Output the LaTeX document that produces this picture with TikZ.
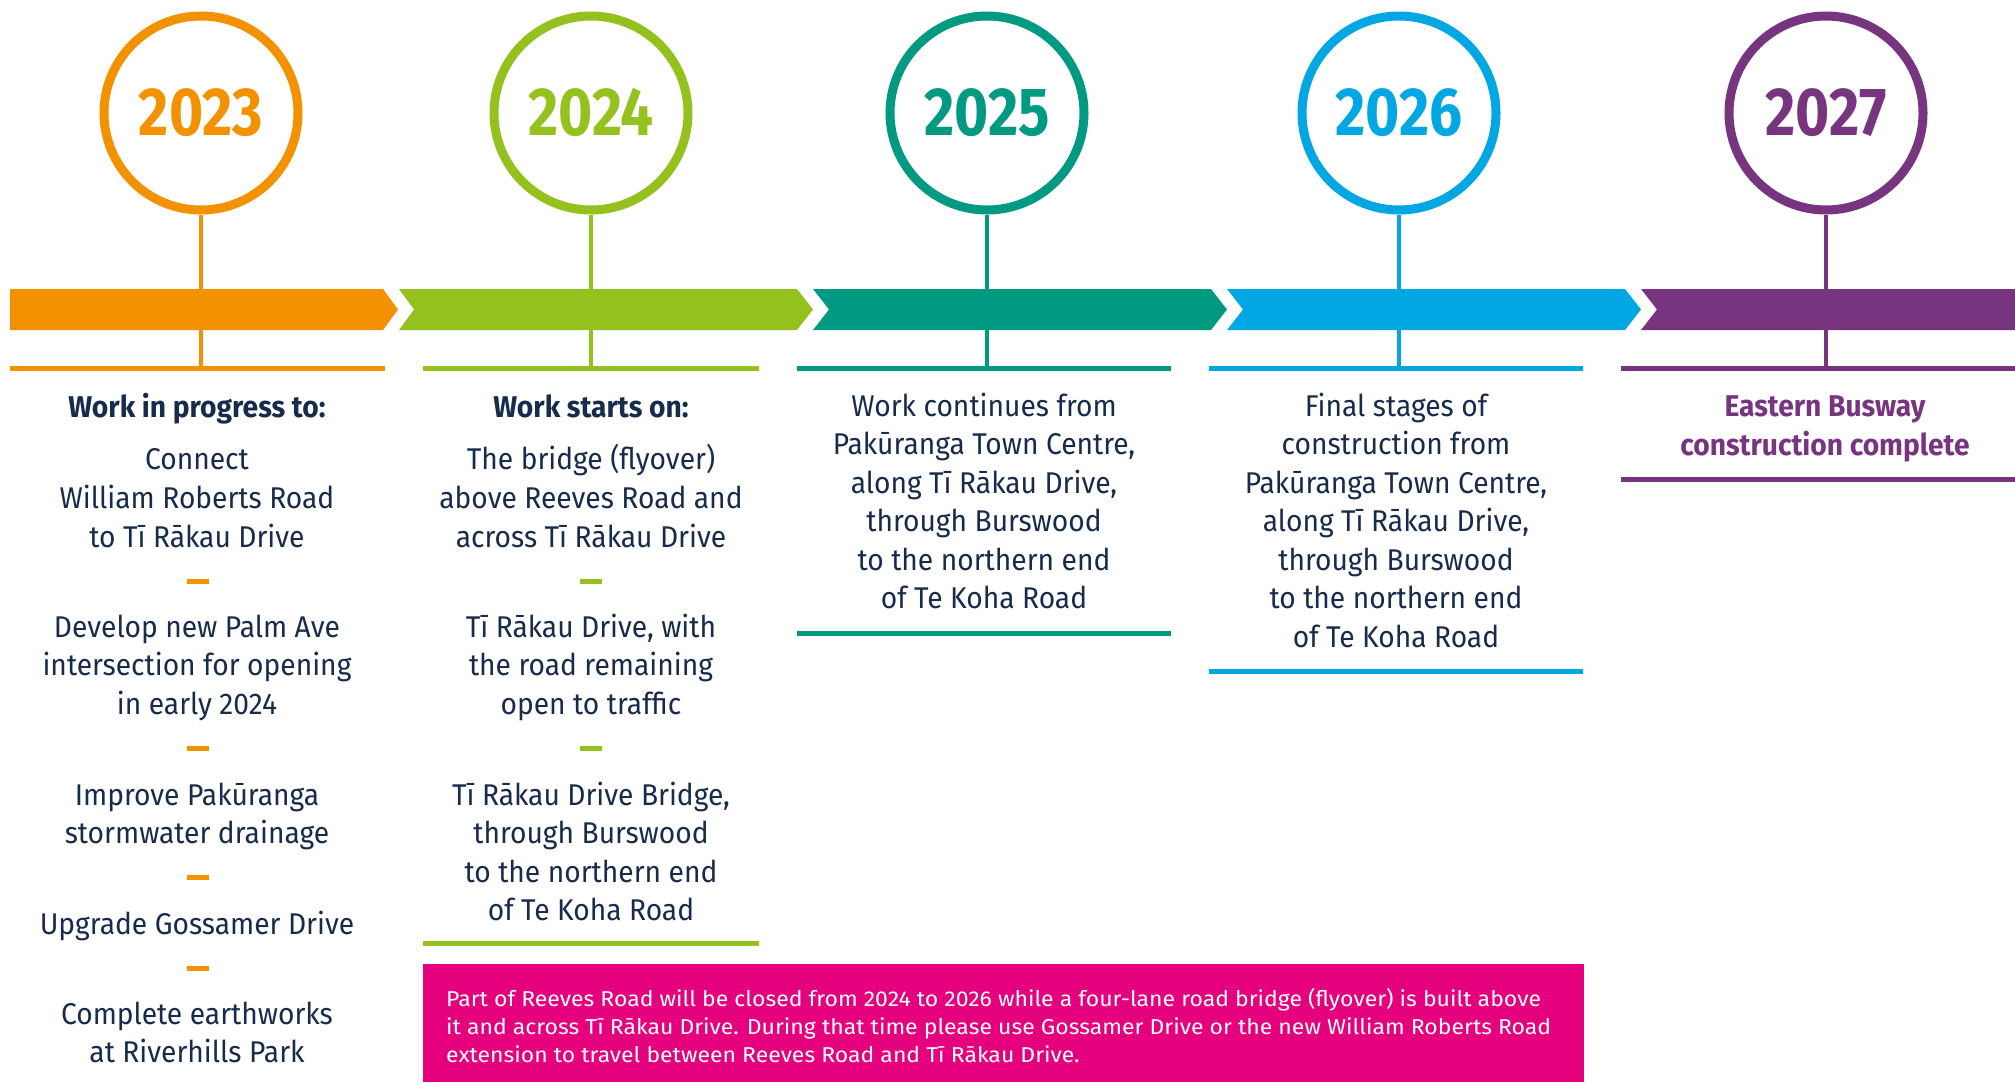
\documentclass[tikz,border=0pt]{standalone}
\usepackage{fontspec}
\setmainfont{Fira Sans}[FakeStretch=0.94]
\newfontfamily\yearfont{Fira Sans}[FakeStretch=0.86]
\newfontfamily\notefont{Fira Sans}[FakeStretch=1.07]
\definecolor{cOr}{HTML}{F39200}
\definecolor{cGr}{HTML}{95C11F}
\definecolor{cTe}{HTML}{009982}
\definecolor{cBl}{HTML}{00A7E3}
\definecolor{cPu}{HTML}{77347F}
\definecolor{cMa}{HTML}{E5007D}
\definecolor{cNavy}{HTML}{172B4D}
\begin{document}
\begin{tikzpicture}[x=1pt,y=-1pt,
  yearcirc/.style={circle, draw=#1, line width=9pt, minimum size=194pt, fill=white, text=#1, inner sep=0pt, font=\yearfont\bfseries\fontsize{68}{68}\selectfont},
  stemline/.style={draw=#1, line width=4pt},
  hrule/.style={draw=#1, line width=5pt},
  ln/.style={anchor=base, text=cNavy, inner sep=0pt, font=\fontsize{30}{36}\selectfont},
  hd/.style={ln, font=\bfseries\fontsize{30}{36}\selectfont},
  pk/.style={anchor=base west, text=white, inner sep=0pt, font=\notefont\fontsize{21.5}{28}\selectfont},
]
\useasboundingbox[fill=white] (0,0) rectangle (2015,1082);

% stems
\coordinate (s1) at (201,368);
\coordinate (s2) at (591,368);
\coordinate (s3) at (987,368);
\coordinate (s4) at (1399,368);
\coordinate (s5) at (1826,368);

\node[yearcirc=cOr] (y1) at (201,113) {2023};
\node[yearcirc=cGr] (y2) at (591,113) {2024};
\node[yearcirc=cTe] (y3) at (987,113) {2025};
\node[yearcirc=cBl] (y4) at (1399,113) {2026};
\node[yearcirc=cPu] (y5) at (1826,113) {2027};

\draw[stemline=cOr] (y1.south) -- (s1);
\draw[stemline=cGr] (y2.south) -- (s2);
\draw[stemline=cTe] (y3.south) -- (s3);
\draw[stemline=cBl] (y4.south) -- (s4);
\draw[stemline=cPu] (y5.south) -- (s5);

% chevron bar
\fill[cOr] (10,289) -- (383,289) -- (398,309.5) -- (383,330) -- (10,330) -- cycle;
\fill[cGr] (399,289) -- (797,289) -- (813,309.5) -- (797,330) -- (399,330) -- (414,309.5) -- cycle;
\fill[cTe] (813,289) -- (1211,289) -- (1227,309.5) -- (1211,330) -- (813,330) -- (829,309.5) -- cycle;
\fill[cBl] (1227,289) -- (1625,289) -- (1641,309.5) -- (1625,330) -- (1227,330) -- (1243,309.5) -- cycle;
\fill[cPu] (1641,289) -- (2015,289) -- (2015,330) -- (1641,330) -- (1657,309.5) -- cycle;

% top rules
\draw[hrule=cOr] (10,368) -- (385,368);
\draw[hrule=cGr] (423,368) -- (759,368);
\draw[hrule=cTe] (797,368) -- (1171,368);
\draw[hrule=cBl] (1209,368) -- (1583,368);
\draw[hrule=cPu] (1621,368) -- (2015,368);

% bottom rules
\draw[hrule=cGr] (423,943) -- (759,943);
\draw[hrule=cTe] (797,633) -- (1171,633);
\draw[hrule=cBl] (1209,671) -- (1583,671);
\draw[hrule=cPu] (1621,479) -- (2015,479);

% column 1
\node[hd] (a0) at (197,417) {Work in progress to:};
\node[ln] (a1) at (197,469) {Connect};
\node[ln] (a2) at (197,508) {William Roberts Road};
\node[ln] (a3) at (197,547) {to Tī Rākau Drive};
\fill[cOr] (187,579) rectangle (209,583.5);
\node[ln] (a4) at (197,637) {Develop new Palm Ave};
\node[ln] (a5) at (197,675) {intersection for opening};
\node[ln] (a6) at (197,714) {in early 2024};
\fill[cOr] (187,746) rectangle (209,750.5);
\node[ln] (a7) at (197,805) {Improve Pakūranga};
\node[ln] (a8) at (197,843) {stormwater drainage};
\fill[cOr] (187,875) rectangle (209,879.5);
\node[ln] (a9) at (197,934) {Upgrade Gossamer Drive};
\fill[cOr] (187,966) rectangle (209,970.5);
\node[ln] (a10) at (197,1024) {Complete earthworks};
\node[ln] (a11) at (197,1062) {at Riverhills Park};

% column 2
\node[hd] (b0) at (591,417) {Work starts on:};
\node[ln] (b1) at (591,469) {The bridge (flyover)};
\node[ln] (b2) at (591,508) {above Reeves Road and};
\node[ln] (b3) at (591,547) {across Tī Rākau Drive};
\fill[cGr] (580,579) rectangle (602,583.5);
\node[ln] (b4) at (591,637) {Tī Rākau Drive, with};
\node[ln] (b5) at (591,675) {the road remaining};
\node[ln] (b6) at (591,714) {open to traffic};
\fill[cGr] (580,746) rectangle (602,750.5);
\node[ln] (b7) at (591,805) {Tī Rākau Drive Bridge,};
\node[ln] (b8) at (591,843.5) {through Burswood};
\node[ln] (b9) at (591,882) {to the northern end};
\node[ln] (b10) at (591,920.5) {of Te Koha Road};

% column 3
\node[ln] (c1) at (984,416) {Work continues from};
\node[ln] (c2) at (984,454.5) {Pakūranga Town Centre,};
\node[ln] (c3) at (984,493) {along Tī Rākau Drive,};
\node[ln] (c4) at (984,531.5) {through Burswood};
\node[ln] (c5) at (984,570) {to the northern end};
\node[ln] (c6) at (984,608.5) {of Te Koha Road};

% column 4
\node[ln] (d1) at (1396,416) {Final stages of};
\node[ln] (d2) at (1396,454.5) {construction from};
\node[ln] (d3) at (1396,493) {Pakūranga Town Centre,};
\node[ln] (d4) at (1396,531.5) {along Tī Rākau Drive,};
\node[ln] (d5) at (1396,570) {through Burswood};
\node[ln] (d6) at (1396,608.5) {to the northern end};
\node[ln] (d7) at (1396,647) {of Te Koha Road};

% column 5
\node[hd, text=cPu] (e1) at (1825,416) {Eastern Busway};
\node[hd, text=cPu] (e2) at (1825,455) {construction complete};

% notice box
\fill[cMa] (423,964) rectangle (1584,1082);
\node[pk] (p1) at (446,1006) {Part of Reeves Road will be closed from 2024 to 2026 while a four-lane road bridge (flyover) is built above};
\node[pk] (p2) at (446,1034) {it and across Tī Rākau Drive. During that time please use Gossamer Drive or the new William Roberts Road};
\node[pk] (p3) at (446,1062) {extension to travel between Reeves Road and Tī Rākau Drive.};
\end{tikzpicture}
\end{document}
